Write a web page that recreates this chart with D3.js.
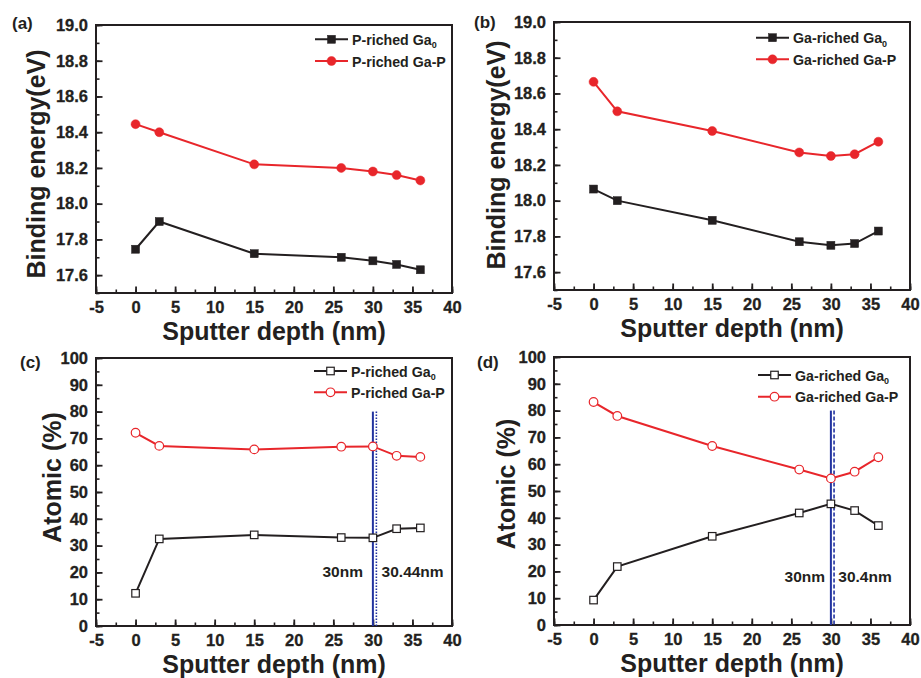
<!DOCTYPE html>
<html>
<head>
<meta charset="utf-8">
<script src="https://cdn.jsdelivr.net/npm/d3@7/dist/d3.min.js"></script>
<style>
  body { margin: 0; background: #fff; }
  svg { display: block; font-family: "Liberation Sans", Arial, sans-serif; font-weight: bold; }
</style>
</head>
<body>
<svg id="chart" width="921" height="678"></svg>
<script>
// ---------- data ----------
const depth = [0, 3, 15, 26, 30, 33, 36];
const xTicks = [-5, 0, 5, 10, 15, 20, 25, 30, 35, 40];
const beTicks = [17.6, 17.8, 18.0, 18.2, 18.4, 18.6, 18.8, 19.0];
const atTicks = [0, 10, 20, 30, 40, 50, 60, 70, 80, 90, 100];

const aGa0 = [17.745, 17.90, 17.72, 17.70, 17.68, 17.66, 17.63];
const aGaP = [18.445, 18.40, 18.22, 18.20, 18.18, 18.16, 18.13];
const bGa0 = [18.065, 18.00, 17.89, 17.77, 17.75, 17.76, 17.83];
const bGaP = [18.665, 18.50, 18.39, 18.27, 18.25, 18.26, 18.33];
const cGa0 = [12.2, 32.5, 34.0, 33.0, 32.9, 36.3, 36.6];
const cGaP = [72.1, 67.2, 65.9, 66.9, 67.0, 63.5, 63.1];
const dGa0 = [9.3, 21.8, 33.1, 41.8, 45.2, 42.7, 37.1];
const dGaP = [83.2, 78.0, 66.8, 58.0, 54.7, 57.2, 62.6];

const labelsA = ["P-riched Ga", "P-riched Ga-P"];
const labelsB = ["Ga-riched Ga", "Ga-riched Ga-P"];
const cLines = [30, 30.44];
const dLines = [30, 30.4];
const cNotes = ["30nm", "30.44nm"];
const dNotes = ["30nm", "30.4nm"];

// ---------- styles ----------
const INK = "#231f20";
const RED = "#e8262b";
const BLUE = "#2233a0";
const TICKFONT = 16.5;

const svg = d3.select("#chart");

function styleTickText(s) {
  s.selectAll("text").attr("fill", INK).attr("font-size", TICKFONT)
    .attr("font-family", "Liberation Sans, Arial, sans-serif").attr("font-weight", "bold")
    .attr("stroke", INK).attr("stroke-width", 0.3);
}

function panel(cfg) {
  const g = svg.append("g");
  const x = d3.scaleLinear().domain([-5, 40]).range([cfg.left, cfg.right]);
  const y = d3.scaleLinear().domain(cfg.yDomain).range([cfg.bottom, cfg.top]);

  // minor ticks
  const xMinor = d3.range(-5, 40.01, 2.5);
  g.append("g").attr("transform", `translate(0,${cfg.bottom})`)
    .call(d3.axisBottom(x).tickValues(xMinor).tickSize(-3.5).tickFormat(""))
    .call(s => s.select(".domain").remove())
    .call(s => s.selectAll("line").attr("stroke", INK).attr("stroke-width", 1.6));
  g.append("g").attr("transform", `translate(${cfg.left},0)`)
    .call(d3.axisLeft(y).tickValues(cfg.yMinor).tickSize(-3.5).tickFormat(""))
    .call(s => s.select(".domain").remove())
    .call(s => s.selectAll("line").attr("stroke", INK).attr("stroke-width", 1.6));

  // major ticks
  g.append("g").attr("transform", `translate(0,${cfg.bottom})`)
    .call(d3.axisBottom(x).tickValues(xTicks).tickSize(-6.5).tickPadding(8.5).tickFormat(d3.format("d")))
    .call(s => s.select(".domain").remove())
    .call(s => s.selectAll("line").attr("stroke", INK).attr("stroke-width", 1.8))
    .call(styleTickText)
    .call(s => s.selectAll("text").text(d => d < 0 ? "-" + Math.abs(d) : d));
  g.append("g").attr("transform", `translate(${cfg.left},0)`)
    .call(d3.axisLeft(y).tickValues(cfg.yTicks).tickSize(-6.5).tickPadding(8).tickFormat(cfg.yFmt))
    .call(s => s.select(".domain").remove())
    .call(s => s.selectAll("line").attr("stroke", INK).attr("stroke-width", 1.8))
    .call(styleTickText);

  // frame
  g.append("rect").attr("x", cfg.left).attr("y", cfg.top)
    .attr("width", cfg.right - cfg.left).attr("height", cfg.bottom - cfg.top)
    .attr("fill", "none").attr("stroke", INK).attr("stroke-width", 2);

  // vertical reference lines
  if (cfg.vlines) {
    g.append("line").attr("x1", x(cfg.vlines[0])).attr("x2", x(cfg.vlines[0]))
      .attr("y1", y(80)).attr("y2", y(0)).attr("stroke", BLUE).attr("stroke-width", 2);
    g.append("line").attr("x1", x(cfg.vlines[1])).attr("x2", x(cfg.vlines[1]))
      .attr("y1", y(80)).attr("y2", y(0)).attr("stroke", BLUE).attr("stroke-width", 1.6)
      .attr("stroke-dasharray", cfg.dash);
    g.append("text").attr("x", x(cfg.noteX[0])).attr("y", y(cfg.noteY))
      .attr("text-anchor", "end").attr("font-size", 15.5).attr("fill", INK).text(cfg.notes[0]);
    g.append("text").attr("x", x(cfg.noteX[1])).attr("y", y(cfg.noteY))
      .attr("text-anchor", "start").attr("font-size", 15.5).attr("fill", INK).text(cfg.notes[1]);
  }

  // series
  const line = d3.line().x((d, i) => x(depth[i])).y(d => y(d));
  const series = [
    { vals: cfg.s0, color: INK, shape: "square" },
    { vals: cfg.s1, color: RED, shape: "circle" }
  ];
  series.forEach(s => {
    g.append("path").datum(s.vals).attr("d", line)
      .attr("fill", "none").attr("stroke", s.color).attr("stroke-width", 2);
    drawMarkers(g, s.vals.map((v, i) => [x(depth[i]), y(v)]), s, cfg.open);
  });

  // legend
  const lg = g.append("g");
  series.forEach((s, i) => {
    const ly = cfg.legY[i];
    lg.append("line").attr("x1", cfg.legX).attr("x2", cfg.legX + 33)
      .attr("y1", ly).attr("y2", ly).attr("stroke", s.color).attr("stroke-width", 2);
    drawMarkers(lg, [[cfg.legX + 16.5, ly]], s, cfg.open);
    const t = lg.append("text").attr("x", cfg.legX + 37).attr("y", ly + 5.5)
      .attr("font-size", 14.2).attr("fill", INK).text(cfg.labels[i]);
    if (i === 0) t.append("tspan").attr("font-size", 9).attr("dy", 3.5).text("0");
  });

  // titles
  g.append("text").attr("transform", "rotate(-90)")
    .attr("x", -cfg.yTitleC).attr("y", cfg.yTitleX)
    .attr("text-anchor", "middle").attr("font-size", 25).attr("fill", INK).text(cfg.yTitle);
  g.append("text").attr("x", (cfg.left + cfg.right) / 2).attr("y", cfg.bottom + 47)
    .attr("text-anchor", "middle").attr("font-size", 25).attr("fill", INK).text("Sputter depth (nm)");
  g.append("text").attr("x", cfg.tagX).attr("y", cfg.tagY)
    .attr("font-size", 17).attr("fill", INK).text(cfg.tag);
}

function drawMarkers(g, pts, s, open) {
  pts.forEach(([px, py]) => {
    if (s.shape === "square") {
      const a = open ? 7.5 : 8;
      g.append("rect").attr("x", px - a / 2).attr("y", py - a / 2).attr("width", a).attr("height", a)
        .attr("fill", open ? "#fff" : s.color).attr("stroke", s.color).attr("stroke-width", open ? 1.2 : 0.5);
    } else {
      g.append("circle").attr("cx", px).attr("cy", py).attr("r", open ? 4.3 : 4.5)
        .attr("fill", open ? "#fff" : s.color).attr("stroke", s.color).attr("stroke-width", open ? 1.2 : 0.5);
    }
  });
}

const beFmt = d3.format(".1f");
const beMinor = d3.range(17.5, 19.001, 0.1);
const atMinor = d3.range(0, 100.01, 5);

panel({ left: 96, right: 452, top: 25, bottom: 293, yDomain: [17.5, 19.0],
  yTicks: beTicks, yMinor: beMinor, yFmt: beFmt, s0: aGa0, s1: aGaP, open: false,
  labels: labelsA, legX: 315, legY: [39.3, 61], yTitle: "Binding energy(eV)",
  yTitleX: 45, yTitleC: 164, tag: "(a)", tagX: 12, tagY: 29 });
panel({ left: 554, right: 910, top: 22, bottom: 290, yDomain: [17.5, 19.0],
  yTicks: beTicks, yMinor: beMinor, yFmt: beFmt, s0: bGa0, s1: bGaP, open: false,
  labels: labelsB, legX: 756, legY: [37.7, 59.3], yTitle: "Binding energy(eV)",
  yTitleX: 505, yTitleC: 155, tag: "(b)", tagX: 474, tagY: 28 });
panel({ left: 96, right: 452, top: 358, bottom: 626, yDomain: [0, 100],
  yTicks: atTicks, yMinor: atMinor, yFmt: d3.format("d"), s0: cGa0, s1: cGaP, open: true,
  labels: labelsA, legX: 314, legY: [371, 392.3], yTitle: "Atomic (%)",
  yTitleX: 61, yTitleC: 477.5, tag: "(c)", tagX: 20, tagY: 368,
  vlines: cLines, dash: "1.5,1.5", notes: cNotes, noteX: [28.75, 31.1], noteY: 18.3 });
panel({ left: 554, right: 910, top: 357, bottom: 625, yDomain: [0, 100],
  yTicks: atTicks, yMinor: atMinor, yFmt: d3.format("d"), s0: dGa0, s1: dGaP, open: true,
  labels: labelsB, legX: 758, legY: [375, 396.7], yTitle: "Atomic (%)",
  yTitleX: 515, yTitleC: 484, tag: "(d)", tagX: 477, tagY: 368,
  vlines: dLines, dash: "4,2", notes: dNotes, noteX: [29.26, 30.94], noteY: 16.2 });
</script>
</body>
</html>
